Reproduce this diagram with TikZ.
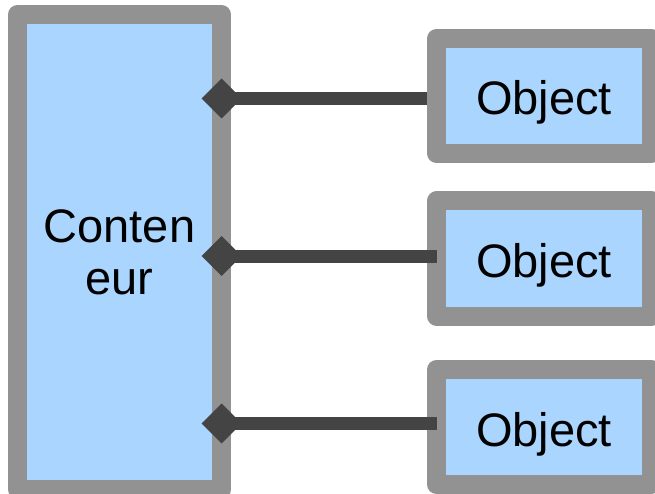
\documentclass[tikz,border=0pt]{standalone}
\usepackage{fontspec}
\setmainfont{Liberation Sans}
\usetikzlibrary{shapes.geometric}
\definecolor{boxgray}{HTML}{929292}
\definecolor{boxblue}{HTML}{A9D5FE}
\definecolor{linkdark}{HTML}{444444}
\tikzset{
  box/.style={draw=boxgray, fill=boxblue, line width=19pt, line join=round,
    rectangle, inner sep=0pt, outer sep=0pt, align=center,
    font=\fontsize{47}{52}\selectfont},
  objbox/.style={box, minimum width=215pt, minimum height=115pt,
    text height=38pt, text depth=0pt},
  dia/.style={diamond, fill=linkdark, minimum size=40pt, inner sep=0pt, outer sep=0pt},
  link/.style={draw=linkdark, line width=13pt}
}
\begin{document}
\begin{tikzpicture}[x=1pt, y=-1pt]
\useasboundingbox (0,0) rectangle (655,494);
\clip (0,0) rectangle (655,494);
\node[box, minimum width=204pt, minimum height=475pt] (cont) at (119.5,252) {Conten\\eur};
\node[objbox] (obj1) at (544,96) {Object};
\node[objbox] (obj2) at (544,258.5) {Object};
\node[objbox] (obj3) at (544,427) {Object};
\coordinate (p1) at (221.5,98.5);
\coordinate (p2) at (221.5,256);
\coordinate (p3) at (221.5,423.5);
\path (p1 -| obj1.west) coordinate (e1);
\path (p2 -| obj2.west) coordinate (e2);
\path (p3 -| obj3.west) coordinate (e3);
\draw[link] (p1) -- ([xshift=-9.5pt]e1);
\draw[link] (p2) -- (e2);
\draw[link] (p3) -- (e3);
\node[dia] (d1) at (p1) {};
\node[dia] (d2) at (p2) {};
\node[dia] (d3) at (p3) {};
\end{tikzpicture}
\end{document}
